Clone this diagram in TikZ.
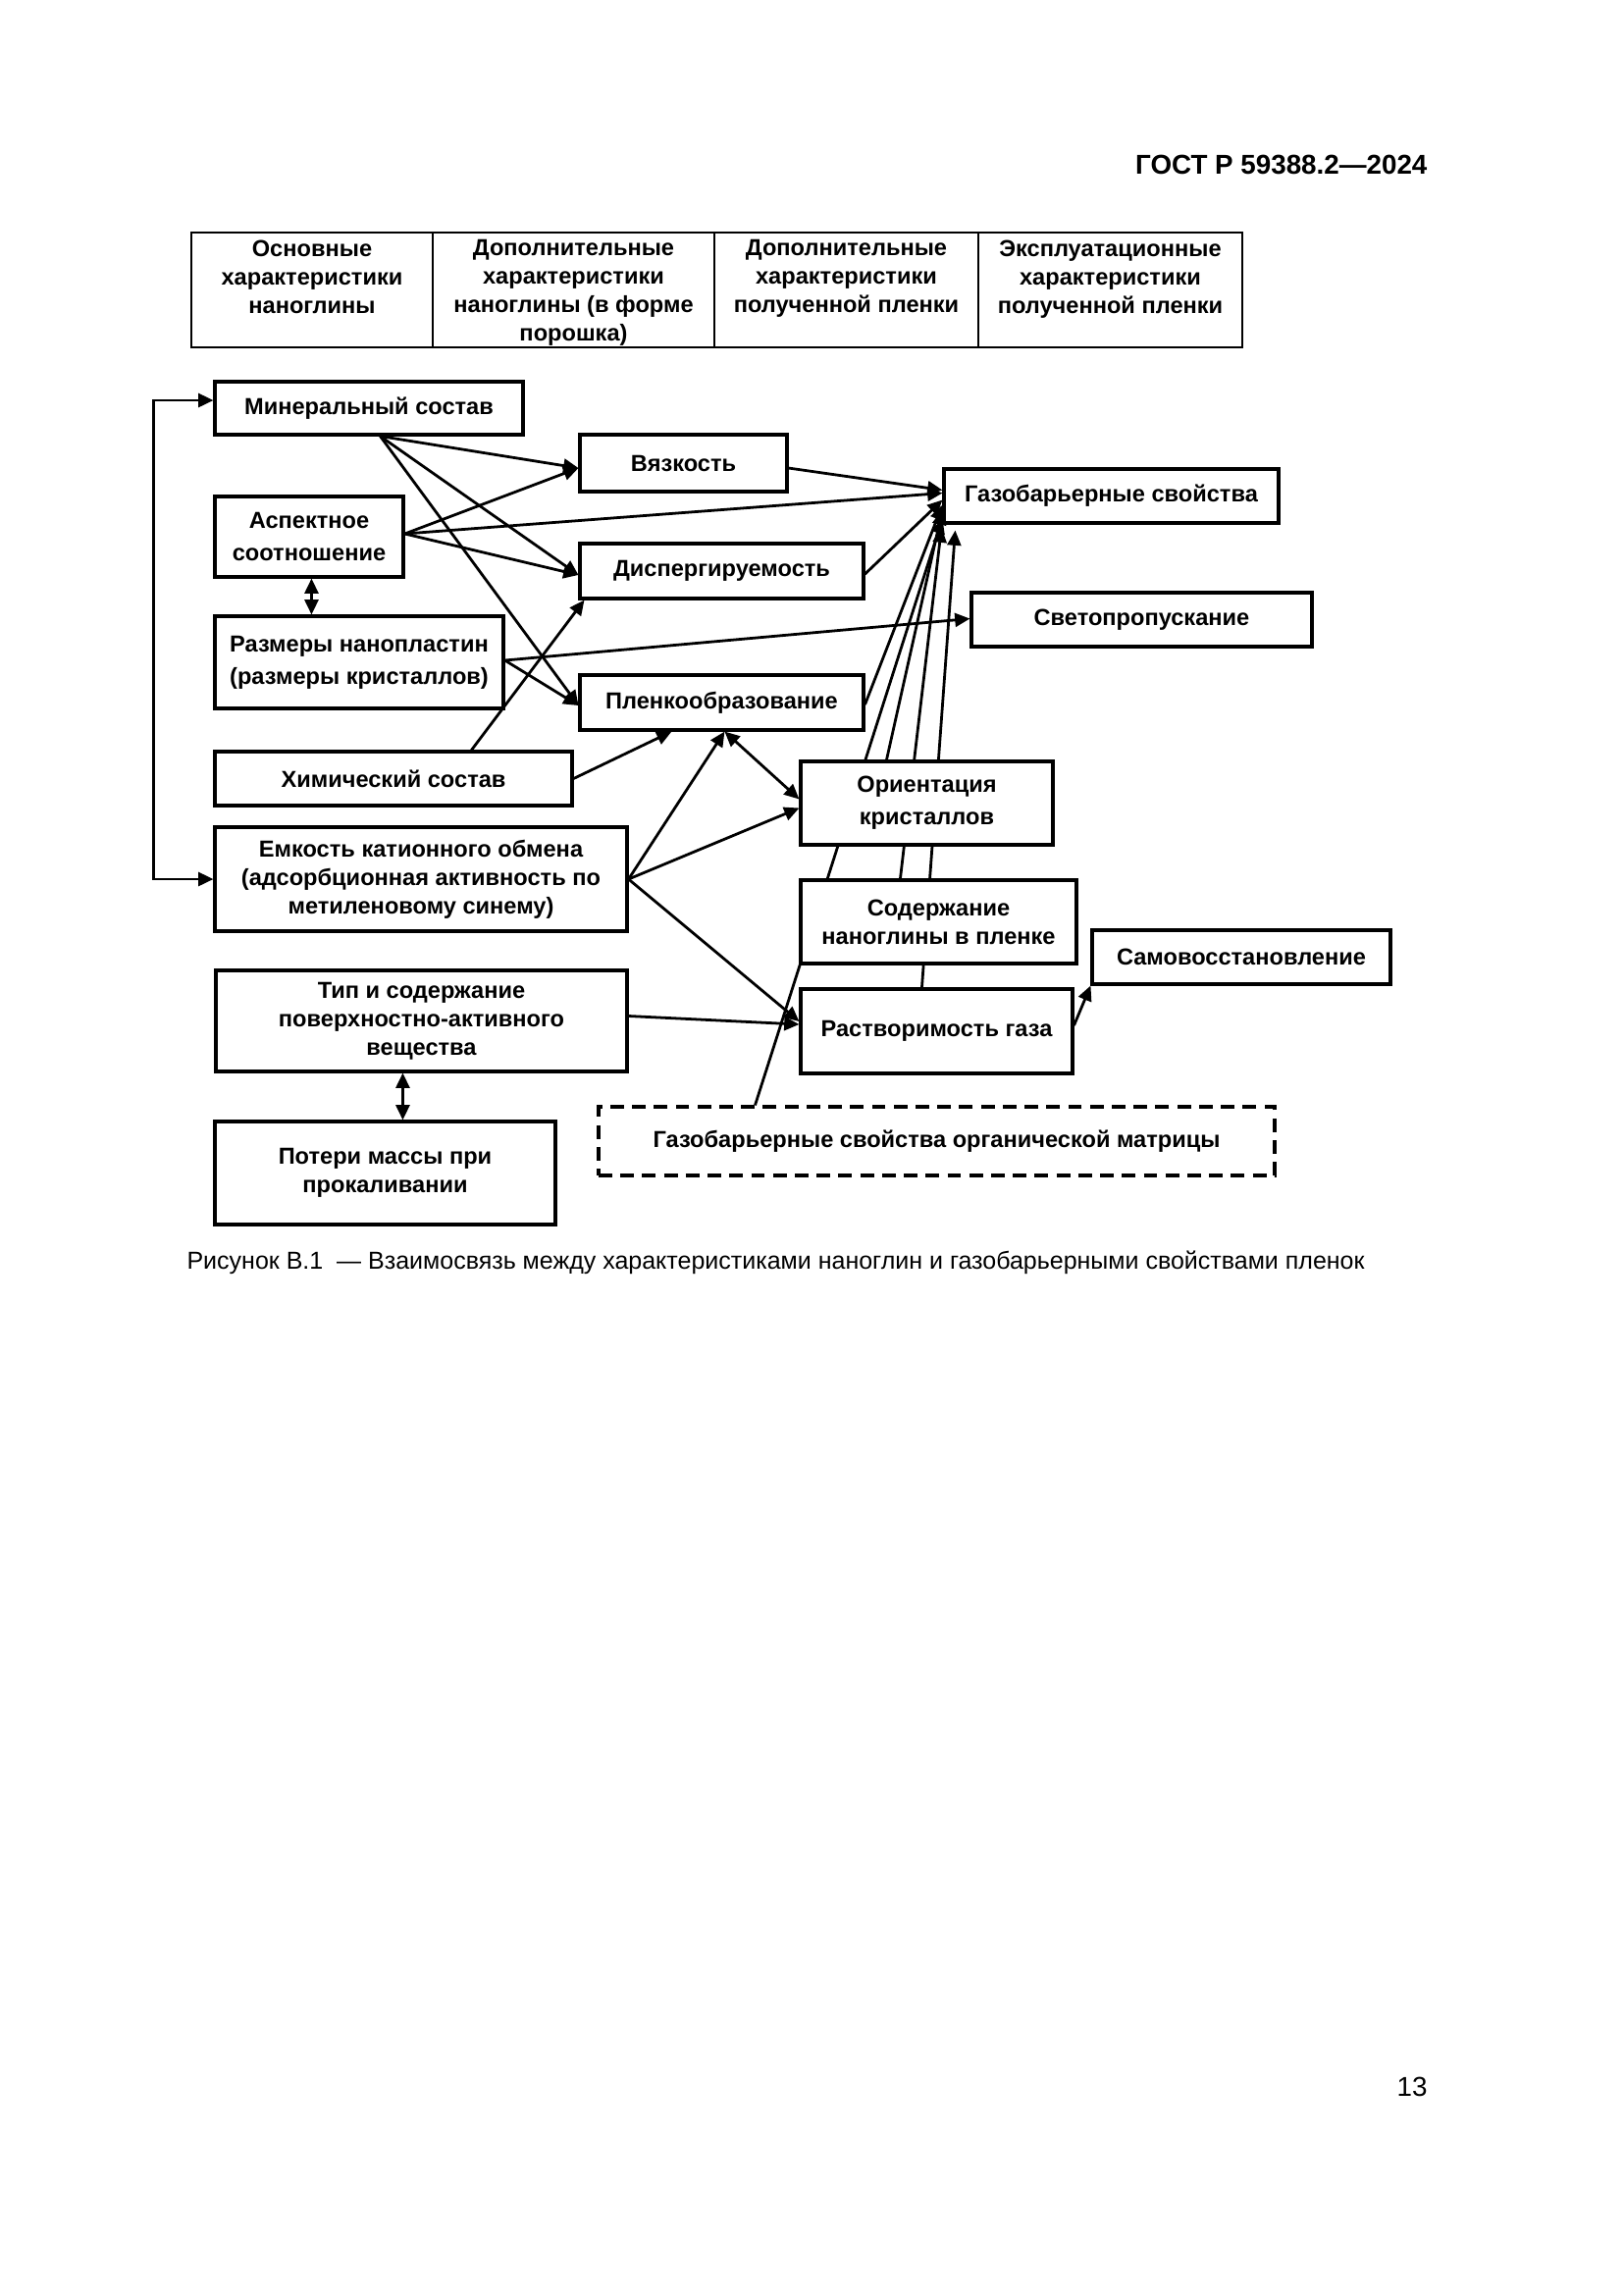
\documentclass[tikz,border=0pt]{standalone}
\usepackage{fontspec}
\setmainfont{Liberation Sans}
\usetikzlibrary{arrows.meta,calc}
\pgfdeclarelayer{bg}
\pgfsetlayers{bg,main}
\begin{document}
\begin{tikzpicture}[x=0.36pt,y=-0.36pt,
  box/.style={draw,line width=1.1pt,fill=white,inner sep=0pt,align=center,
    font=\bfseries\fontsize{8.5}{10.44}\selectfont},
  bx/.style n args={4}{minimum width={(#3-#1)*0.36pt},minimum height={(#4-#2)*0.36pt},
    at={({(#1+#3)/2},{(#2+#4)/2})}},
  wide/.style={font=\bfseries\fontsize{8.5}{11.9}\selectfont},
  dashbox/.style={box,dash pattern=on 5pt off 3pt},
  cell/.style={draw,line width=0.8pt,inner sep=0pt},
  htext/.style={anchor=north,inner sep=0pt,align=center,
    font=\bfseries\fontsize{8.5}{10.44}\selectfont},
  conn/.style={line width=1pt,-{Triangle[length=5.5pt,width=5pt]}},
  dconn/.style={line width=1pt,{Triangle[length=5.5pt,width=5pt]}-{Triangle[length=5.5pt,width=5pt]}},
  plain/.style={inner sep=0pt}]
\useasboundingbox (0,0) rectangle (1654,2339);

% page header and number
\node[plain,anchor=base east,font=\bfseries\fontsize{10}{12}\selectfont] (gost) at (1455,177) {ГОСТ Р 59388.2—2024};
\node[plain,anchor=base east,font=\fontsize{10}{12}\selectfont] (pagenum) at (1455,2136) {13};

% header table
\node[cell,bx={195}{237}{441}{354}] (c1) {};
\node[cell,bx={441}{237}{728}{354}] (c2) {};
\node[cell,bx={728}{237}{997}{354}] (c3) {};
\node[cell,bx={997}{237}{1266}{354}] (c4) {};
\node[htext] (t1) at (318,244) {Основные\\характеристики\\наноглины};
\node[htext] (t2) at (584.5,244) {Дополнительные\\характеристики\\наноглины (в форме\\порошка)};
\node[htext] (t3) at (862.5,244) {Дополнительные\\характеристики\\полученной пленки};
\node[htext] (t4) at (1131.5,244) {Эксплуатационные\\характеристики\\полученной пленки};

% boxes
\node[box,bx={219}{389}{533}{443}] (min) {Минеральный состав};
\node[box,bx={591}{443}{802}{501}] (visc) {Вязкость};
\node[box,bx={962}{478}{1303}{533}] (gas) {Газобарьерные свойства};
\node[box,wide,bx={219}{506}{411}{588}] (asp) {Аспектное\\соотношение};
\node[box,bx={591}{554}{880}{610}] (disp) {Диспергируемость};
\node[box,bx={990}{604}{1337}{659}] (light) {Светопропускание};
\node[box,wide,bx={219}{628}{513}{722}] (size) {Размеры нанопластин\\(размеры кристаллов)};
\node[box,bx={591}{688}{880}{744}] (film) {Пленкообразование};
\node[box,bx={219}{766}{583}{821}] (chem) {Химический состав};
\node[box,wide,bx={816}{776}{1073}{861}] (orient) {Ориентация\\кристаллов};
\node[box,bx={219}{843}{639}{949}] (cec) {Емкость катионного обмена\\(адсорбционная активность по\\метиленовому синему)};
\node[box,bx={816}{897}{1097}{982}] (cont) {Содержание\\наноглины в пленке};
\node[box,bx={1113}{948}{1417}{1003}] (heal) {Самовосстановление};
\node[box,bx={816}{1008}{1093}{1094}] (solub) {Растворимость газа};
\node[box,bx={220}{989}{639}{1092}] (surf) {Тип и содержание\\поверхностно-активного\\вещества};
\node[box,bx={219}{1143}{566}{1248}] (loss) {Потери массы при\\прокаливании};
\node[dashbox,bx={610}{1128}{1299}{1198}] (matrix) {Газобарьерные свойства органической матрицы};

% caption
\node[plain,anchor=base west,font=\fontsize{9}{11}\selectfont] (caption) at (190,1293) {Рисунок В.1 \ — Взаимосвязь между характеристиками наноглин и газобарьерными свойствами пленок};

% connection points
\coordinate (m0) at ($(min.south west)+(170,0)$);
\coordinate (a0) at ($(asp.east)+(0,-3)$);
\coordinate (s0) at ($(size.east)+(0,-2)$);
\coordinate (ch0) at ($(chem.north west)+(263,0)$);
\coordinate (viscin) at ($(visc.west)+(0,5)$);
\coordinate (dispin) at ($(disp.west)+(0,4)$);
\coordinate (filmin) at ($(film.west)+(0,3)$);
\coordinate (filmb1) at ($(film.south west)+(95,0)$);
\coordinate (filmb2) at ($(film.south west)+(149,0)$);
\coordinate (fb1) at ($(min.west)+(-61,-8)$);
\coordinate (fb2) at ($(cec.west)+(-61,0)$);

\begin{pgfonlayer}{bg}
\draw[dconn] ($(min.west)+(0,-8)$) -- (fb1) -- (fb2) -- (cec.west);
\draw[conn] (m0) -- (viscin);
\draw[conn] (m0) -- (dispin);
\draw[conn] (m0) -- (filmin);
\draw[conn] (a0) -- (viscin);
\draw[conn] (a0) -- ($(gas.west)+(0,-3)$);
\draw[conn] (a0) -- (dispin);
\draw[dconn] ($(asp.south west)+(100,0)$) -- ($(size.north west)+(100,0)$);
\draw[conn] (s0) -- ($(light.west)+(0,-1)$);
\draw[conn] (s0) -- (filmin);
\draw[conn] (ch0) -- ($(disp.south west)+(6,0)$);
\draw[conn] (chem.east) -- (filmb1);
\draw[conn] (cec.east) -- (filmb2);
\draw[dconn] (filmb2) -- ($(orient.west)+(0,-4)$);
\draw[conn] (cec.east) -- ($(orient.west)+(0,5)$);
\draw[conn] (cec.east) -- ($(solub.west)+(0,-10)$);
\draw[conn] ($(surf.east)+(0,-5)$) -- ($(solub.west)+(0,-7)$);
\draw[conn] ($(solub.east)+(0,-6)$) -- (heal.south west);
\draw[conn] ($(visc.east)+(0,5)$) -- ($(gas.west)+(0,-6)$);
\draw[conn] ($(disp.east)+(0,3)$) -- ($(gas.west)+(0,4)$);
\draw[conn] ($(film.east)+(0,2)$) -- ($(gas.west)+(0,9)$);
\draw[conn] ($(orient.north west)+(89,0)$) -- ($(gas.west)+(0,14)$);
\draw[conn] ($(matrix.north west)+(161,0)$) -- ($(gas.south west)+(0,-6)$);
\draw[conn] ($(cont.north west)+(103,0)$) -- ($(gas.south west)+(-1,3)$);
\draw[conn] ($(solub.north west)+(125,0)$) -- ($(gas.south west)+(13,6)$);
\draw[dconn] ($(surf.south west)+(192,0)$) -- ($(loss.north west)+(193,0)$);
\end{pgfonlayer}
\end{tikzpicture}
\end{document}
